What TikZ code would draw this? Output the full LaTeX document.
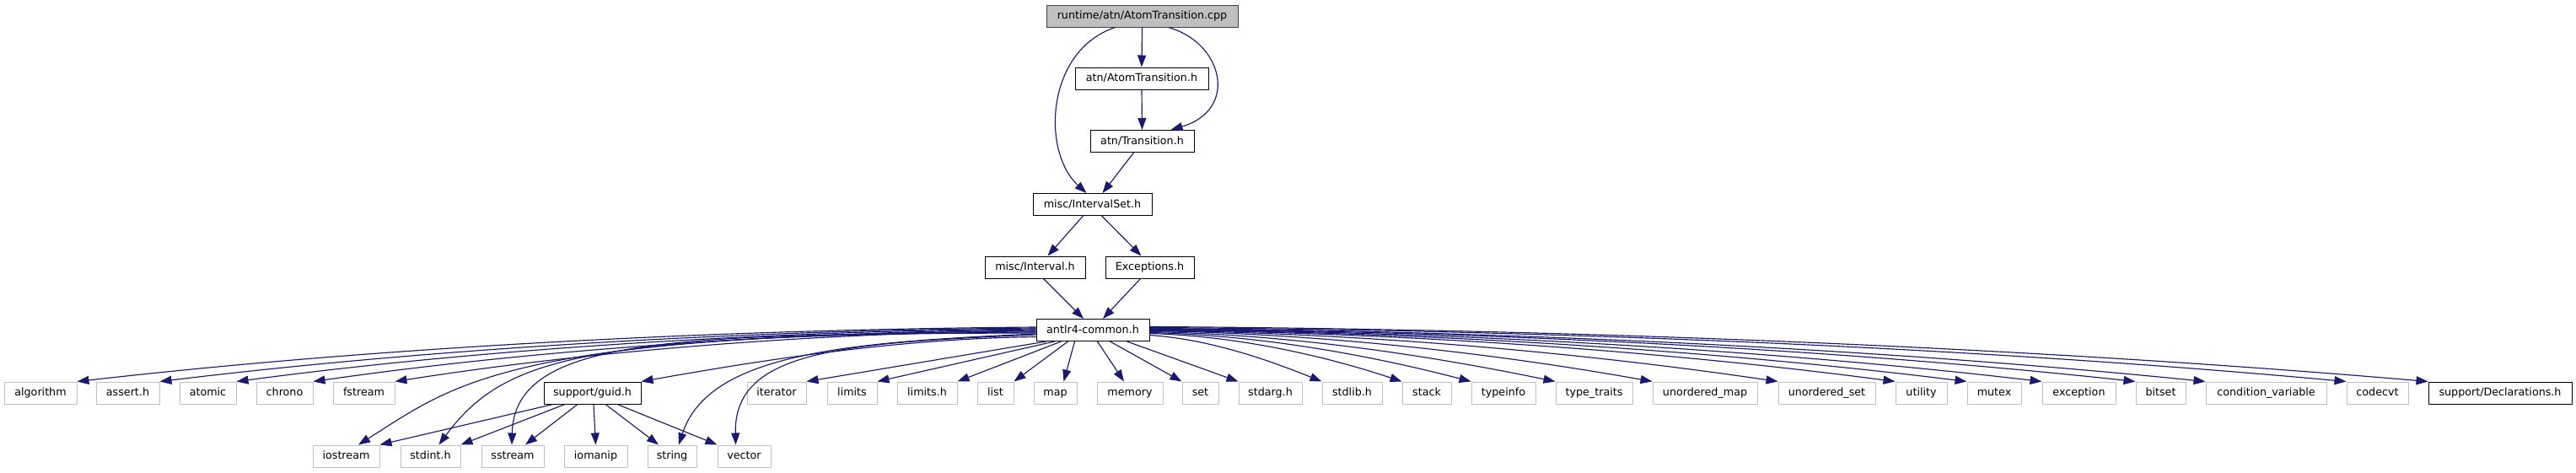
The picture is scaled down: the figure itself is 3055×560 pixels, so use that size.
\documentclass[tikz,border=0pt]{standalone}
\usepackage{fontspec}
\setmainfont{DejaVu Sans}
\usetikzlibrary{arrows.meta}
\definecolor{edgec}{HTML}{191970}
\definecolor{lgray}{HTML}{BFBFBF}
\definecolor{topfill}{HTML}{BFBFBF}
\definecolor{dgray}{HTML}{404040}
\begin{document}
\begin{tikzpicture}[x=1pt,y=-1pt,
  box/.style={draw, rectangle, inner sep=0pt, minimum height=26pt, line width=1pt,
    font=\fontsize{12.7pt}{15pt}\selectfont, text height=9.5pt, text depth=2.5pt},
  sys/.style={box, draw=lgray},
  own/.style={box, draw=black},
  root/.style={box, draw=dgray, fill=topfill},
  e/.style={draw=edgec, line width=1.15pt, -{Triangle[length=14pt,width=10pt]}}]
\useasboundingbox (0,0) rectangle (3055,560);
% upper part
\node[root, minimum width=227] (cpp) at (1354.5,19) {runtime/atn/AtomTransition.cpp};
\node[own, minimum width=158] (ath) at (1354,93) {atn/AtomTransition.h};
\node[own, minimum width=123] (tr) at (1354.5,167.5) {atn/Transition.h};
\node[own, minimum width=141] (iset) at (1295.5,242.5) {misc/IntervalSet.h};
\node[own, minimum width=119] (ival) at (1227.5,317) {misc/Interval.h};
\node[own, minimum width=105] (exc) at (1363.5,317) {Exceptions.h};
\node[own, minimum width=134] (ac) at (1296,391.5) {antlr4-common.h};
% row 1
\node[sys, minimum width=86] (alg) at (48,466) {algorithm};
\node[sys, minimum width=75] (asrt) at (151.5,466) {assert.h};
\node[sys, minimum width=67] (atom) at (246.5,466) {atomic};
\node[sys, minimum width=67] (chr) at (337.5,466) {chrono};
\node[sys, minimum width=73] (fst) at (431.5,466) {fstream};
\node[own, minimum width=115] (guid) at (702.5,466) {support/guid.h};
\node[sys, minimum width=70] (itr) at (921,466) {iterator};
\node[sys, minimum width=59] (lim) at (1010.5,466) {limits};
\node[sys, minimum width=71] (limh) at (1099.5,466) {limits.h};
\node[sys, minimum width=43] (lst) at (1180.5,466) {list};
\node[sys, minimum width=51] (mp) at (1251.5,466) {map};
\node[sys, minimum width=78] (mem) at (1340,466) {memory};
\node[sys, minimum width=43] (st) at (1423.5,466) {set};
\node[sys, minimum width=75] (sarg) at (1506.5,466) {stdarg.h};
\node[sys, minimum width=71] (slib) at (1603.5,466) {stdlib.h};
\node[sys, minimum width=58] (stk) at (1692,466) {stack};
\node[sys, minimum width=76] (tinfo) at (1783,466) {typeinfo};
\node[sys, minimum width=91] (ttr) at (1890.5,466) {type\_traits};
\node[sys, minimum width=124] (umap) at (2022,466) {unordered\_map};
\node[sys, minimum width=115] (uset) at (2166.5,466) {unordered\_set};
\node[sys, minimum width=61] (util) at (2278.5,466) {utility};
\node[sys, minimum width=64] (mtx) at (2365,466) {mutex};
\node[sys, minimum width=87] (excp) at (2465.5,466) {exception};
\node[sys, minimum width=59] (bits) at (2562.5,466) {bitset};
\node[sys, minimum width=143] (cvar) at (2687.5,466) {condition\_variable};
\node[sys, minimum width=73] (cvt) at (2819.5,466) {codecvt};
\node[own, minimum width=170] (decl) at (2965,466) {support/Declarations.h};
% row 2
\node[sys, minimum width=79] (ios) at (410.5,541) {iostream};
\node[sys, minimum width=71] (sint) at (510.5,541) {stdint.h};
\node[sys, minimum width=74] (sstr) at (608,541) {sstream};
\node[sys, minimum width=75] (iom) at (706.5,541) {iomanip};
\node[sys, minimum width=58] (str) at (797,541) {string};
\node[sys, minimum width=63] (vec) at (882.5,541) {vector};
% upper edges
\draw[e] (cpp.south) -- (ath.north);
\draw[e] (ath.south) -- (tr.north);
\draw[e] ([xshift=31]cpp.south) .. controls (1450,50) and (1470,130) .. ([xshift=34]tr.north);
\draw[e] ([xshift=-32]cpp.south) .. controls (1240,60) and (1235,180) .. ([xshift=-7]iset.north);
\draw[e] ([xshift=-10]tr.south) -- ([xshift=12]iset.north);
\draw[e] ([xshift=-11]iset.south) -- ([xshift=15]ival.north);
\draw[e] ([xshift=11]iset.south) -- ([xshift=-10]exc.north);
\draw[e] ([xshift=10]ival.south) -- ([xshift=-11]ac.north);
\draw[e] ([xshift=-11]exc.south) -- ([xshift=12]ac.north);
% antlr4-common -> left row 1
\draw[e] ([yshift=3.5]ac.west) .. controls +(-398,3) and +(341,-39) .. (alg.north east);
\draw[e] ([yshift=2.5]ac.west) .. controls +(-364,3) and +(312,-38) .. (asrt.north east);
\draw[e] ([yshift=1.5]ac.west) .. controls +(-332,3) and +(285,-38) .. (atom.north east);
\draw[e] ([yshift=0.5]ac.west) .. controls +(-300,3) and +(257,-37) .. (chr.north east);
\draw[e] ([yshift=-0.5]ac.west) .. controls +(-266,3) and +(228,-36) .. (fst.north east);
\draw[e] ([yshift=-8]ac.west) .. controls +(-164,2) and +(141,-25) .. (guid.north east);
% antlr4-common -> row 2
\draw[e] ([yshift=-1.5]ac.west) .. controls (600,395) and (540,455) .. ([xshift=14.5]ios.north);
\draw[e] ([yshift=-2.5]ac.west) .. controls (700,398) and (600,420) .. ([xshift=10]sint.north);
\draw[e] ([yshift=-3.5]ac.west) .. controls (800,396) and (610,400) .. ([xshift=-1]sstr.north);
\draw[e] ([yshift=-4.5]ac.west) .. controls (1000,406) and (840,420) .. ([xshift=8]str.north);
\draw[e] ([yshift=-5.5]ac.west) .. controls (1000,407) and (870,415) .. ([xshift=-10]vec.north);
% antlr4-common -> near row 1
\draw[e] ([xshift=12]ac.south west) -- (itr.north east);
\draw[e] ([xshift=22]ac.south west) -- (lim.north east);
\draw[e] ([xshift=30]ac.south west) -- (limh.north east);
\draw[e] ([xshift=38]ac.south west) -- (lst.north east);
\draw[e] ([xshift=46]ac.south west) -- ([xshift=10]mp.north);
\draw[e] ([xshift=73]ac.south west) -- ([xshift=-7]mem.north);
\draw[e] ([xshift=88]ac.south west) -- (st.north west);
\draw[e] ([xshift=108]ac.south west) -- (sarg.north west);
% antlr4-common -> right row 1
\draw[e] ([yshift=-6]ac.east) .. controls +(72,5) and +(-62,-25) .. (slib.north west);
\draw[e] ([yshift=-4]ac.east) .. controls +(105,3) and +(-90,-30) .. (stk.north west);
\draw[e] ([yshift=-3]ac.east) .. controls +(134,3) and +(-115,-30) .. (tinfo.north west);
\draw[e] ([yshift=-2]ac.east) .. controls +(169,3) and +(-145,-30) .. (ttr.north west);
\draw[e] ([yshift=-1]ac.east) .. controls +(209,3) and +(-179,-32) .. (umap.north west);
\draw[e] ([yshift=-0.5]ac.east) .. controls +(261,3) and +(-224,-33) .. (uset.north west);
\draw[e] ([yshift=0]ac.east) .. controls +(310,3) and +(-266,-35) .. (util.north west);
\draw[e] ([yshift=0.5]ac.east) .. controls +(340,3) and +(-291,-36) .. (mtx.north west);
\draw[e] ([yshift=1]ac.east) .. controls +(371,3) and +(-318,-37) .. (excp.north west);
\draw[e] ([yshift=1.5]ac.east) .. controls +(410,3) and +(-351,-38) .. (bits.north west);
\draw[e] ([yshift=2]ac.east) .. controls +(439,3) and +(-376,-38) .. (cvar.north west);
\draw[e] ([yshift=3]ac.east) .. controls +(497,3) and +(-426,-39) .. (cvt.north west);
\draw[e] ([yshift=4]ac.east) .. controls +(531,3) and +(-455,-39) .. (decl.north west);
% support/guid.h -> row 2
\draw[e] ([xshift=-46.5]guid.south) -- (ios.north east);
\draw[e] ([xshift=-32.5]guid.south) -- (sint.north east);
\draw[e] ([xshift=-17.5]guid.south) -- ([xshift=15]sstr.north);
\draw[e] ([xshift=1.5]guid.south) -- (iom.north);
\draw[e] ([xshift=15.5]guid.south) -- ([xshift=-16]str.north);
\draw[e] ([xshift=29.5]guid.south) -- (vec.north west);
\end{tikzpicture}
\end{document}
